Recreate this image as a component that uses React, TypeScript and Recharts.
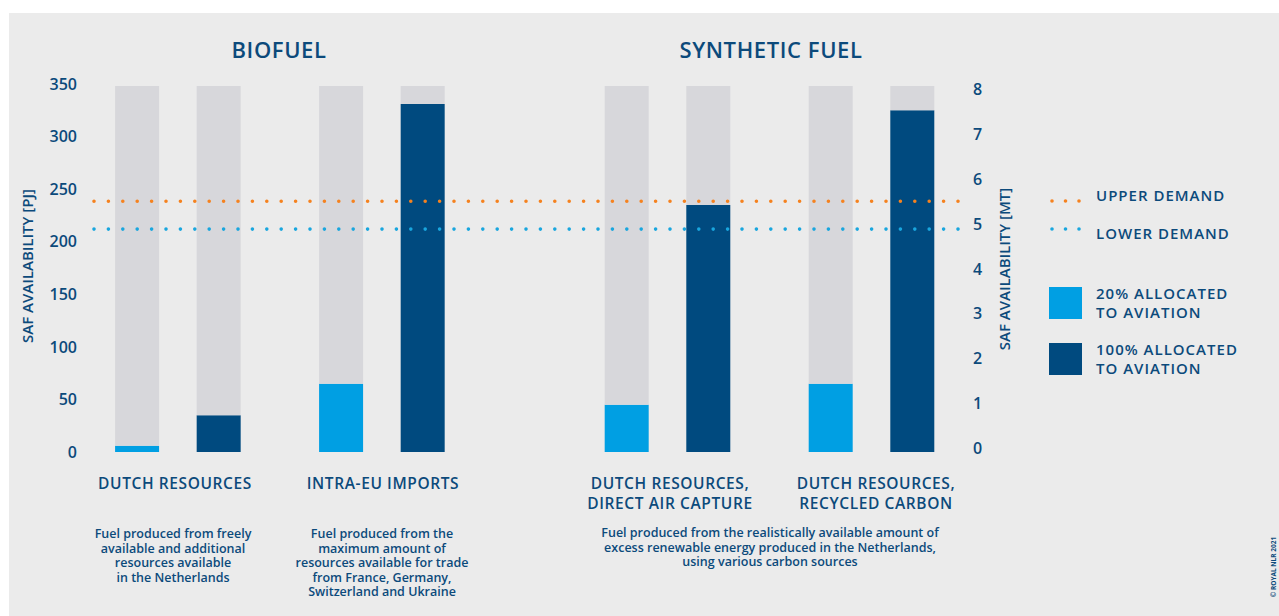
import React from 'react';
import {
  ComposedChart,
  Bar,
  Cell,
  XAxis,
  YAxis,
  ReferenceLine,
} from 'recharts';

// SAF availability in PJ
const categories = [
  'Dutch resources',
  'Intra-EU imports',
  'Dutch resources, direct air capture',
  'Dutch resources, recycled carbon',
];
const allocated20 = [6, 65, 45, 65];
const allocated100 = [35, 331, 235, 325];
const potential = [348, 348, 348, 348];
const upperDemand = 238.5;
const lowerDemand = 212;
const pjTicks = [0, 50, 100, 150, 200, 250, 300, 350];
const mtTicks = [0, 1, 2, 3, 4, 5, 6, 7, 8];

// layout: horizontal slot of each bar on the numeric x axis
const barSlots = [0, 4, 10, 14, 24, 28, 34, 38];

const TEXT = '#0c4a7b';
const LIGHT = '#009fe3';
const DARK = '#004a7f';
const GREY = '#d7d7db';
const ORANGE = '#f5821f';
const CYAN = '#19a6de';
const FONT = '"Open Sans", "Noto Sans", sans-serif';

const rows = categories.flatMap((cat, i) => [
  { cat, share: '20%', value: allocated20[i], rest: potential[i] - allocated20[i] },
  { cat, share: '100%', value: allocated100[i], rest: potential[i] - allocated100[i] },
]).map((r, i) => ({ ...r, slot: barSlots[i] }));

const txt = (
  content: React.ReactNode,
  left: number,
  top: number,
  width: number,
  style: React.CSSProperties = {}
) => (
  <div
    style={{
      position: 'absolute',
      left,
      top,
      width,
      color: TEXT,
      fontFamily: FONT,
      fontWeight: 600,
      textAlign: 'center',
      whiteSpace: 'nowrap',
      ...style,
    }}
  >
    {content}
  </div>
);

const Dots = ({ color }: { color: string }) => (
  <svg width={36} height={8} style={{ position: 'absolute', left: 0, top: 0 }}>
    {[3, 16.5, 30].map((cx) => (
      <circle key={cx} cx={cx} cy={4} r={1.8} fill={color} />
    ))}
  </svg>
);

export default function App() {
  const catLabel = { fontSize: 15.5, lineHeight: '20px', letterSpacing: '0.6px' };
  const desc = { fontSize: 12.5, lineHeight: '14.6px', fontWeight: 600 };
  const legendText = {
    fontSize: 15,
    lineHeight: '19px',
    letterSpacing: '1px',
    textAlign: 'left' as const,
  };
  const tickStyle = { fill: TEXT, fontSize: 16, fontWeight: 600 };

  return (
    <div
      style={{
        position: 'absolute',
        left: 0,
        top: 0,
        width: 1279,
        height: 616,
        background: '#ffffff',
        overflow: 'hidden',
      }}
    >
      <div
        style={{
          position: 'absolute',
          left: 9,
          top: 13,
          right: 0,
          bottom: 0,
          background: '#ebebeb',
        }}
      />

      <div style={{ position: 'absolute', left: 0, top: 0 }}>
        <ComposedChart
          width={1279}
          height={616}
          data={rows}
          margin={{ top: 84, right: 261, bottom: 164, left: 32 }}
          style={{ fontFamily: FONT }}
        >
          <XAxis
            dataKey="slot"
            type="number"
            domain={[-2.2, 40.25]}
            allowDataOverflow
            hide
          />
          <YAxis
            yAxisId="pj"
            domain={[0, 350]}
            ticks={pjTicks}
            width={60}
            axisLine={false}
            tickLine={false}
            tickSize={0}
            tickMargin={15}
            tick={tickStyle}
          />
          <YAxis
            yAxisId="mt"
            orientation="right"
            type="number"
            domain={[-0.09, 8.13]}
            allowDataOverflow
            ticks={mtTicks}
            interval={0}
            width={60}
            axisLine={false}
            tickLine={false}
            tickSize={0}
            tickMargin={15}
            tick={tickStyle}
          />
          <Bar
            yAxisId="pj"
            dataKey="value"
            stackId="a"
            barSize={44}
            isAnimationActive={false}
          >
            {rows.map((r, i) => (
              <Cell key={i} fill={r.share === '20%' ? LIGHT : DARK} />
            ))}
          </Bar>
          <Bar
            yAxisId="pj"
            dataKey="rest"
            stackId="a"
            barSize={44}
            fill={GREY}
            isAnimationActive={false}
          />
          <ReferenceLine yAxisId="mt" y={0} stroke="none" />
          <ReferenceLine yAxisId="mt" y={8} stroke="none" />
          <ReferenceLine
            yAxisId="pj"
            y={upperDemand}
            stroke={ORANGE}
            strokeWidth={3.6}
            strokeDasharray="0 14.4"
            strokeLinecap="round"
            strokeDashoffset={-2}
          />
          <ReferenceLine
            yAxisId="pj"
            y={lowerDemand}
            stroke={CYAN}
            strokeWidth={3.6}
            strokeDasharray="0 14.4"
            strokeLinecap="round"
            strokeDashoffset={-2}
          />
        </ComposedChart>
      </div>

      {/* group titles */}
      {txt('BIOFUEL', 179, 38, 200, { fontSize: 22, lineHeight: '22px', letterSpacing: '0.6px' })}
      {txt('SYNTHETIC FUEL', 621, 38, 300, { fontSize: 22, lineHeight: '22px', letterSpacing: '0.6px' })}

      {/* axis titles */}
      {txt('SAF AVAILABILITY [PJ]', -73, 257, 200, {
        fontSize: 15,
        lineHeight: '18px',
        transform: 'rotate(-90deg)',
      })}
      {txt('SAF AVAILABILITY [MT]', 904, 260, 200, {
        fontSize: 15,
        lineHeight: '18px',
        transform: 'rotate(-90deg)',
      })}

      {/* category labels */}
      {txt('DUTCH RESOURCES', 75, 473, 200, catLabel)}
      {txt('INTRA-EU IMPORTS', 283, 473, 200, catLabel)}
      {txt(<>DUTCH RESOURCES,<br />DIRECT AIR CAPTURE</>, 570, 473, 200, catLabel)}
      {txt(<>DUTCH RESOURCES,<br />RECYCLED CARBON</>, 776, 473, 200, catLabel)}

      {/* descriptions */}
      {txt(
        <>Fuel produced from freely<br />available and additional<br />resources available<br />in the Netherlands</>,
        73, 527, 200, desc
      )}
      {txt(
        <>Fuel produced from the<br />maximum amount of<br />resources available for trade<br />from France, Germany,<br />Switzerland and Ukraine</>,
        282, 527, 200, desc
      )}
      {txt(
        <>Fuel produced from the realistically available amount of<br />excess renewable energy produced in the Netherlands,<br />using various carbon sources</>,
        570, 526, 400, desc
      )}

      {/* legend */}
      <div style={{ position: 'absolute', left: 1049, top: 197 }}>
        <Dots color={ORANGE} />
      </div>
      <div style={{ position: 'absolute', left: 1049, top: 225 }}>
        <Dots color={CYAN} />
      </div>
      {txt('UPPER DEMAND', 1096, 186, 180, legendText)}
      {txt('LOWER DEMAND', 1096, 224, 180, legendText)}
      <div style={{ position: 'absolute', left: 1049, top: 287, width: 33, height: 32, background: LIGHT }} />
      <div style={{ position: 'absolute', left: 1049, top: 343, width: 33, height: 32, background: DARK }} />
      {txt(<>20% ALLOCATED<br />TO AVIATION</>, 1096, 284, 180, legendText)}
      {txt(<>100% ALLOCATED<br />TO AVIATION</>, 1096, 340, 180, legendText)}

      {/* credit */}
      {txt('© ROYAL NLR 2021', 1234, 563, 80, {
        fontSize: 6.5,
        lineHeight: '8px',
        fontWeight: 700,
        transform: 'rotate(-90deg)',
      })}
    </div>
  );
}
